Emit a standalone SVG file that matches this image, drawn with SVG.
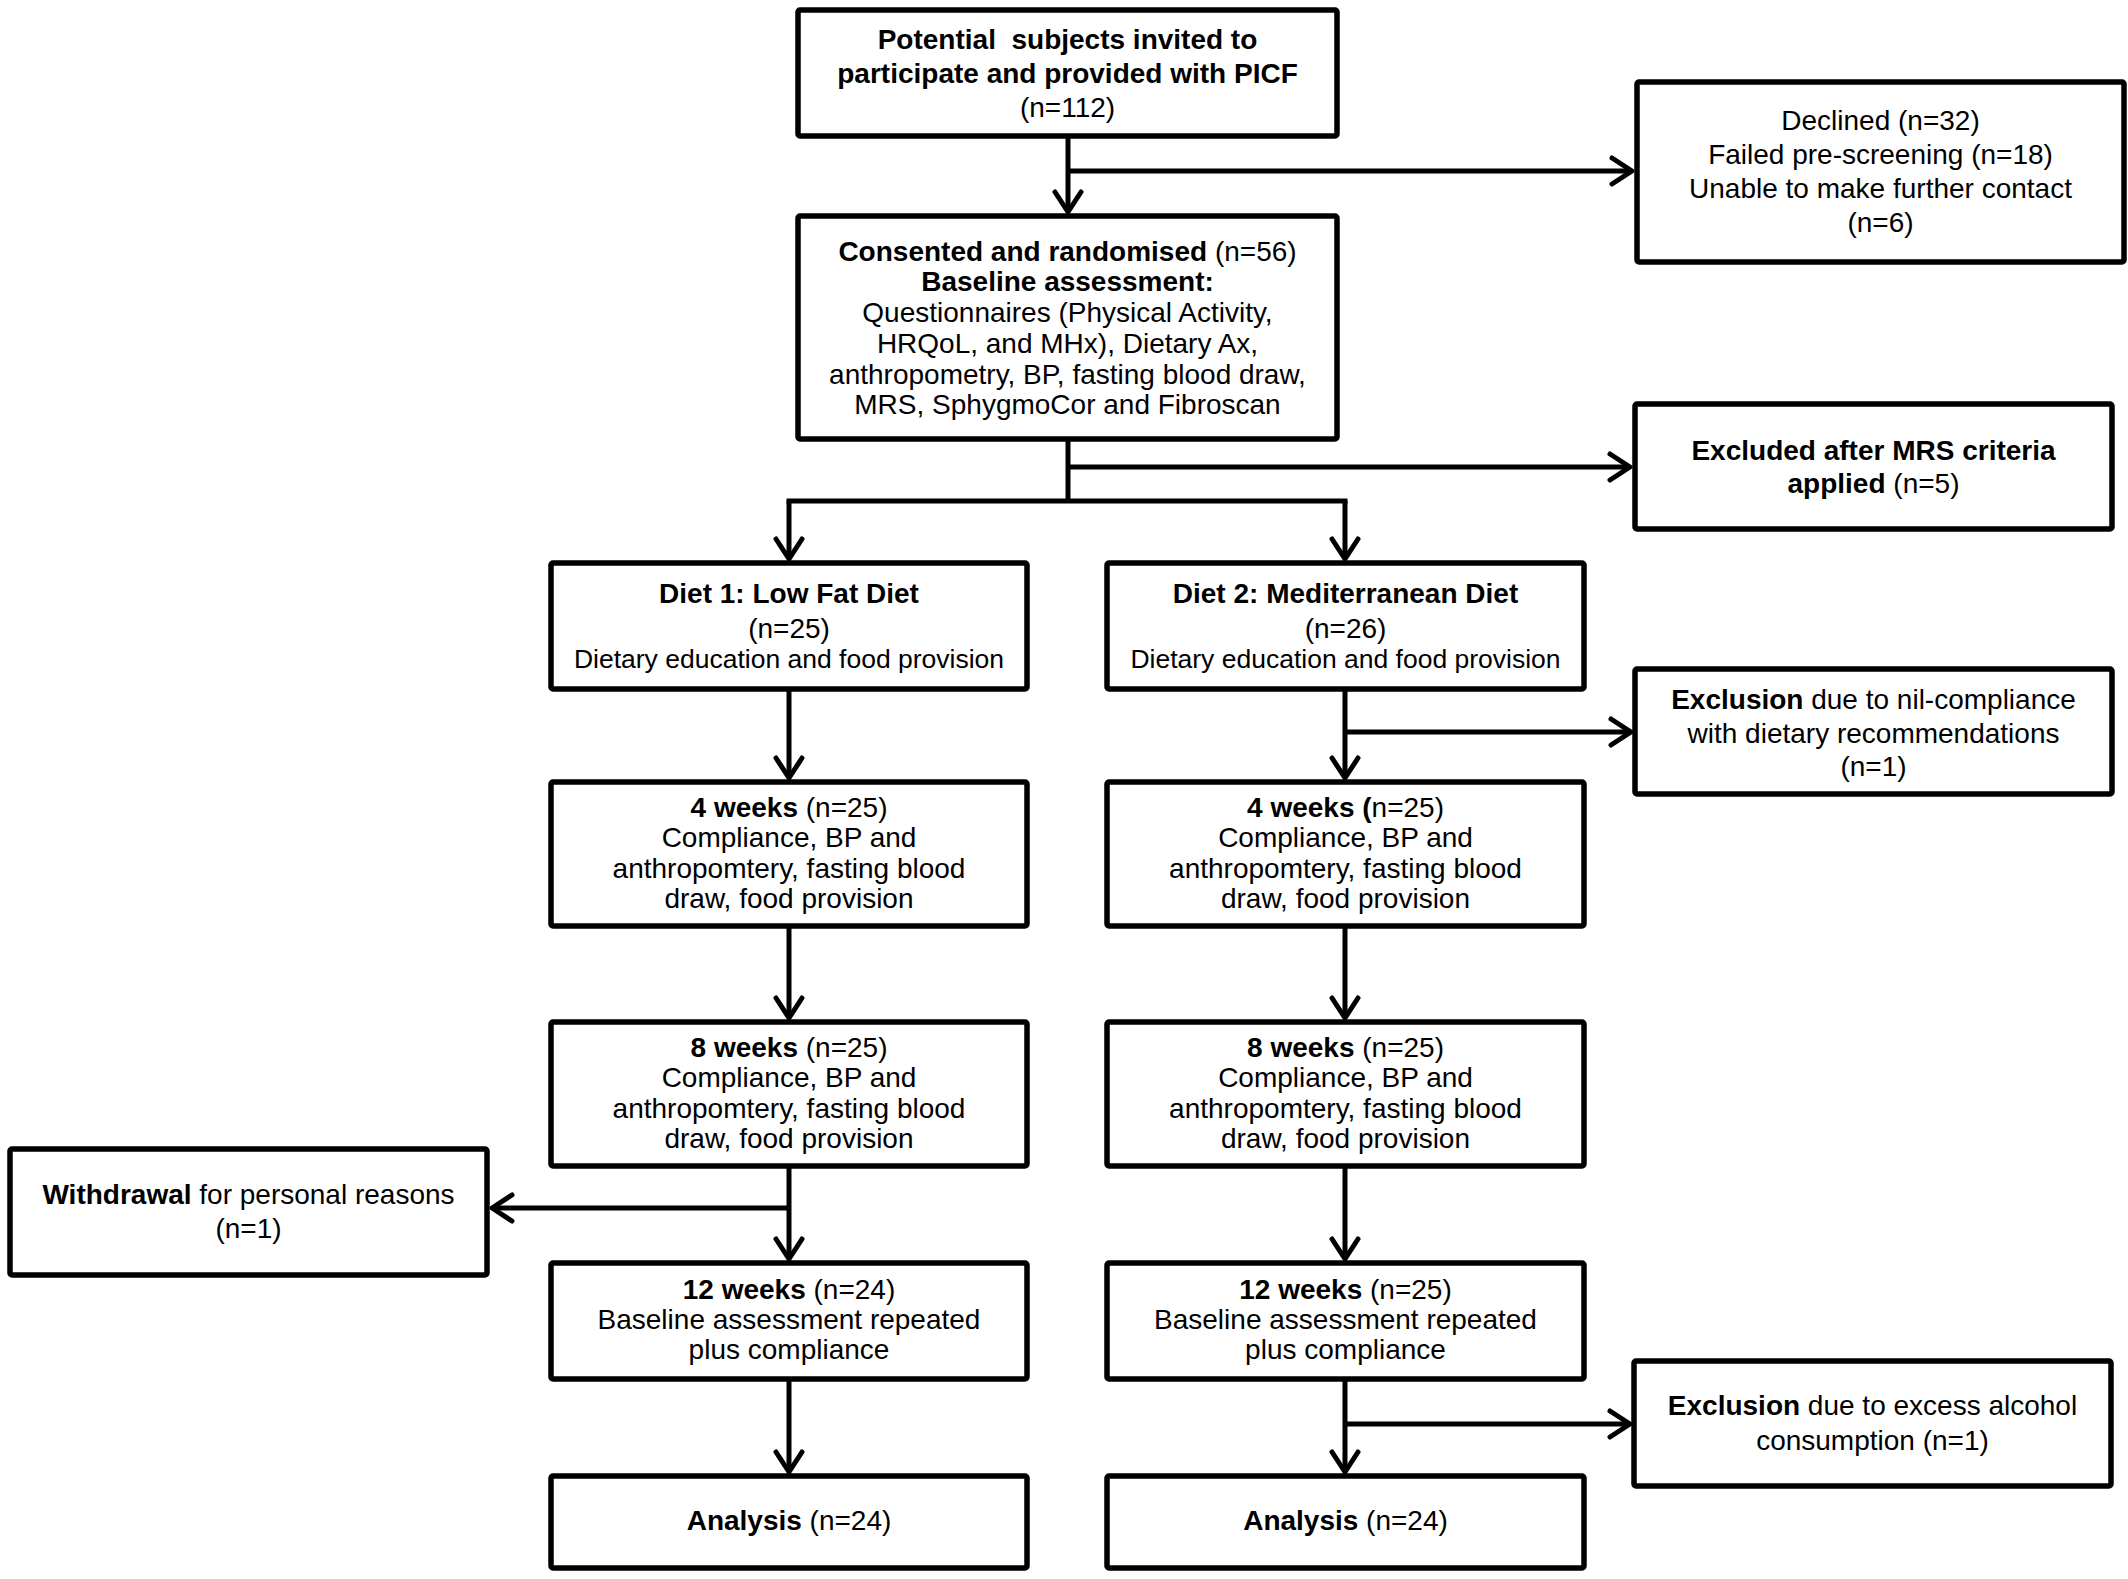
<svg xmlns="http://www.w3.org/2000/svg" width="2128" height="1579" viewBox="0 0 2128 1579">
<defs>
<style>
.b{fill:#fff;stroke:#000;stroke-width:5.5}
.t{font-family:"Liberation Sans",Arial,sans-serif;font-size:28px;text-anchor:middle;fill:#000}
.s{font-family:"Liberation Sans",Arial,sans-serif;font-size:26.5px;text-anchor:middle;fill:#000}
.k{font-weight:bold}
.c{stroke:#000;stroke-width:5;fill:none}
</style>
<marker id="ah" markerUnits="userSpaceOnUse" markerWidth="30" markerHeight="30" viewBox="-25 -15 30 30" refX="0" refY="0" orient="auto" overflow="visible">
<path d="M-20,-13 L0,0 L-20,13" fill="none" stroke="#000" stroke-width="5" stroke-linecap="round" stroke-linejoin="round"/>
</marker>
</defs>
<rect width="2128" height="1579" fill="#fff"/>
<g id="connectors">
<path class="c" d="M1068,136 V212" marker-end="url(#ah)"/>
<path class="c" d="M1068,171 H1632" marker-end="url(#ah)"/>
<path class="c" d="M1068,439 V501"/>
<path class="c" d="M1068,467 H1630" marker-end="url(#ah)"/>
<path class="c" d="M786.5,501 H1347.5"/>
<path class="c" d="M789,501 V559" marker-end="url(#ah)"/>
<path class="c" d="M1345,501 V559" marker-end="url(#ah)"/>
<path class="c" d="M789,689 V778" marker-end="url(#ah)"/>
<path class="c" d="M789,926 V1018" marker-end="url(#ah)"/>
<path class="c" d="M789,1166 V1259" marker-end="url(#ah)"/>
<path class="c" d="M789,1208 H492" marker-end="url(#ah)"/>
<path class="c" d="M789,1379 V1472" marker-end="url(#ah)"/>
<path class="c" d="M1345,689 V778" marker-end="url(#ah)"/>
<path class="c" d="M1345,732 H1631" marker-end="url(#ah)"/>
<path class="c" d="M1345,926 V1018" marker-end="url(#ah)"/>
<path class="c" d="M1345,1166 V1259" marker-end="url(#ah)"/>
<path class="c" d="M1345,1379 V1472" marker-end="url(#ah)"/>
<path class="c" d="M1345,1424 H1630" marker-end="url(#ah)"/>
</g>
<g id="invited">
<rect class="b" x="798" y="10" width="539" height="126" rx="2"/>
<text class="t k" x="1067.5" y="49" xml:space="preserve">Potential  subjects invited to</text>
<text class="t k" x="1067.5" y="83">participate and provided with PICF</text>
<text class="t" x="1067.5" y="117">(n=112)</text>
</g>
<g id="declined">
<rect class="b" x="1637" y="82" width="487" height="180" rx="2"/>
<text class="t" x="1880.5" y="130">Declined (n=32)</text>
<text class="t" x="1880.5" y="164">Failed pre-screening (n=18)</text>
<text class="t" x="1880.5" y="198">Unable to make further contact</text>
<text class="t" x="1880.5" y="232">(n=6)</text>
</g>
<g id="consented">
<rect class="b" x="798" y="216" width="539" height="223" rx="2"/>
<text class="t" x="1067.5" y="261"><tspan class="k">Consented and randomised</tspan> (n=56)</text>
<text class="t k" x="1067.5" y="291">Baseline assessment:</text>
<text class="t" x="1067.5" y="322">Questionnaires (Physical Activity,</text>
<text class="t" x="1067.5" y="353">HRQoL, and MHx), Dietary Ax,</text>
<text class="t" x="1067.5" y="384">anthropometry, BP, fasting blood draw,</text>
<text class="t" x="1067.5" y="414">MRS, SphygmoCor and Fibroscan</text>
</g>
<g id="mrs-excluded">
<rect class="b" x="1635" y="404" width="477" height="125" rx="2"/>
<text class="t k" x="1873.5" y="460">Excluded after MRS criteria</text>
<text class="t" x="1873.5" y="493"><tspan class="k">applied</tspan> (n=5)</text>
</g>
<g id="diet1">
<rect class="b" x="551" y="563" width="476" height="126" rx="2"/>
<text class="t k" x="789" y="603">Diet 1: Low Fat Diet</text>
<text class="t" x="789" y="638">(n=25)</text>
<text class="s" x="789" y="668">Dietary education and food provision</text>
</g>
<g id="diet2">
<rect class="b" x="1107" y="563" width="477" height="126" rx="2"/>
<text class="t k" x="1345.5" y="603">Diet 2: Mediterranean Diet</text>
<text class="t" x="1345.5" y="638">(n=26)</text>
<text class="s" x="1345.5" y="668">Dietary education and food provision</text>
</g>
<g id="nil-compliance">
<rect class="b" x="1635" y="669" width="477" height="125" rx="2"/>
<text class="t" x="1873.5" y="709"><tspan class="k">Exclusion</tspan> due to nil-compliance</text>
<text class="t" x="1873.5" y="743">with dietary recommendations</text>
<text class="t" x="1873.5" y="776">(n=1)</text>
</g>
<g id="wk4-left">
<rect class="b" x="551" y="782" width="476" height="144" rx="2"/>
<text class="t" x="789" y="817"><tspan class="k">4 weeks</tspan> (n=25)</text>
<text class="t" x="789" y="847">Compliance, BP and</text>
<text class="t" x="789" y="878">anthropomtery, fasting blood</text>
<text class="t" x="789" y="908">draw, food provision</text>
</g>
<g id="wk4-right">
<rect class="b" x="1107" y="782" width="477" height="144" rx="2"/>
<text class="t" x="1345.5" y="817"><tspan class="k">4 weeks (</tspan>n=25)</text>
<text class="t" x="1345.5" y="847">Compliance, BP and</text>
<text class="t" x="1345.5" y="878">anthropomtery, fasting blood</text>
<text class="t" x="1345.5" y="908">draw, food provision</text>
</g>
<g id="wk8-left">
<rect class="b" x="551" y="1022" width="476" height="144" rx="2"/>
<text class="t" x="789" y="1057"><tspan class="k">8 weeks</tspan> (n=25)</text>
<text class="t" x="789" y="1087">Compliance, BP and</text>
<text class="t" x="789" y="1118">anthropomtery, fasting blood</text>
<text class="t" x="789" y="1148">draw, food provision</text>
</g>
<g id="wk8-right">
<rect class="b" x="1107" y="1022" width="477" height="144" rx="2"/>
<text class="t" x="1345.5" y="1057"><tspan class="k">8 weeks</tspan> (n=25)</text>
<text class="t" x="1345.5" y="1087">Compliance, BP and</text>
<text class="t" x="1345.5" y="1118">anthropomtery, fasting blood</text>
<text class="t" x="1345.5" y="1148">draw, food provision</text>
</g>
<g id="withdrawal">
<rect class="b" x="10" y="1149" width="477" height="126" rx="2"/>
<text class="t" x="248.5" y="1204"><tspan class="k">Withdrawal</tspan> for personal reasons</text>
<text class="t" x="248.5" y="1238">(n=1)</text>
</g>
<g id="wk12-left">
<rect class="b" x="551" y="1263" width="476" height="116" rx="2"/>
<text class="t" x="789" y="1299"><tspan class="k">12 weeks</tspan> (n=24)</text>
<text class="t" x="789" y="1329">Baseline assessment repeated</text>
<text class="t" x="789" y="1359">plus compliance</text>
</g>
<g id="wk12-right">
<rect class="b" x="1107" y="1263" width="477" height="116" rx="2"/>
<text class="t" x="1345.5" y="1299"><tspan class="k">12 weeks</tspan> (n=25)</text>
<text class="t" x="1345.5" y="1329">Baseline assessment repeated</text>
<text class="t" x="1345.5" y="1359">plus compliance</text>
</g>
<g id="alcohol">
<rect class="b" x="1634" y="1361" width="477" height="125" rx="2"/>
<text class="t" x="1872.5" y="1415"><tspan class="k">Exclusion</tspan> due to excess alcohol</text>
<text class="t" x="1872.5" y="1450">consumption (n=1)</text>
</g>
<g id="analysis-left">
<rect class="b" x="551" y="1476" width="476" height="92" rx="2"/>
<text class="t" x="789" y="1530"><tspan class="k">Analysis</tspan> (n=24)</text>
</g>
<g id="analysis-right">
<rect class="b" x="1107" y="1476" width="477" height="92" rx="2"/>
<text class="t" x="1345.5" y="1530"><tspan class="k">Analysis</tspan> (n=24)</text>
</g>
</svg>
